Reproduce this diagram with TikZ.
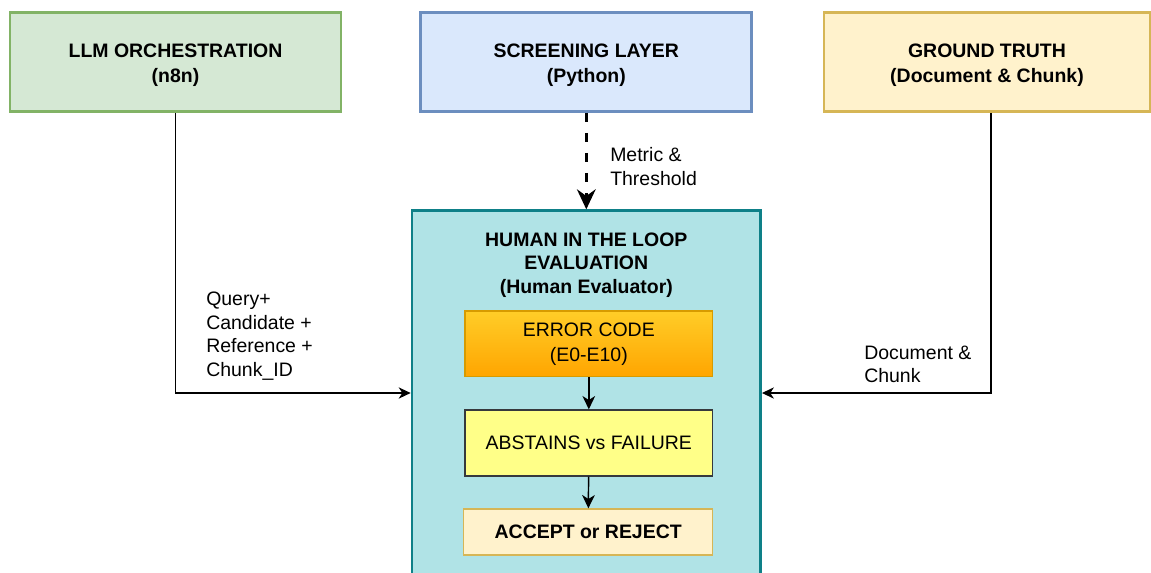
\documentclass[tikz,border=0pt]{standalone}
\usepackage{fontspec}
\setmainfont{Liberation Sans}
\usetikzlibrary{arrows.meta}

\definecolor{llmfill}{HTML}{D5E8D4}
\definecolor{llmdraw}{HTML}{82B366}
\definecolor{scrfill}{HTML}{DAE8FC}
\definecolor{scrdraw}{HTML}{6C8EBF}
\definecolor{gtfill}{HTML}{FFF2CC}
\definecolor{gtdraw}{HTML}{D6B656}
\definecolor{hitlfill}{HTML}{B0E3E6}
\definecolor{hitldraw}{HTML}{0E8088}
\definecolor{errtop}{HTML}{FFCD28}
\definecolor{errbot}{HTML}{FFA500}
\definecolor{errdraw}{HTML}{D79B00}
\definecolor{absfill}{HTML}{FFFF88}
\definecolor{absdraw}{HTML}{36393D}

\begin{document}
\begin{tikzpicture}[x=0.75pt,y=0.75pt,yscale=-1,
  txt/.style={font=\fontsize{14.6pt}{17.6pt}\selectfont, inner sep=0pt, align=left},
  title/.style={font=\bfseries\fontsize{14.6pt}{18.75pt}\selectfont, align=center, inner sep=0pt},
  layer/.style={draw, line width=2.2pt, inner sep=0pt, minimum width=248.25pt, minimum height=74.25pt},
  inbox/.style={draw, line width=1pt, inner sep=0pt, minimum width=185.8pt, minimum height=49.3pt,
    font=\fontsize{14.6pt}{18.75pt}\selectfont, align=center},
  flow/.style={line width=0.8pt, -{Stealth[length=9pt,width=8.5pt,inset=2.8pt]}},
  step flow/.style={line width=1.1pt, -{Stealth[length=10pt,width=9.5pt,inset=3pt]}}
]
\clip (0,0) rectangle (1151,572);

% top row
\node[layer, fill=llmfill, draw=llmdraw] (llm) at (175.5,62) {};
\node[layer, fill=scrfill, draw=scrdraw] (screen) at (586.3,62) {};
\node[layer, fill=gtfill, draw=gtdraw, minimum width=244.5pt] (truth) at (987,62) {};
\node[title, anchor=base] (llmtxt) at (175.5,82) {LLM ORCHESTRATION\\(n8n)};
\node[title, anchor=base] (screentxt) at (586.3,82) {SCREENING LAYER\\(Python)};
\node[title, anchor=base] (truthtxt) at (987,82) {GROUND TRUTH\\(Document \& Chunk)};

% evaluation block
\node[draw=hitldraw, fill=hitlfill, line width=2pt, inner sep=0pt, minimum width=261.5pt, minimum height=273.5pt] (hitl) at (586.3,393) {};
\node[title, font=\bfseries\fontsize{14.6pt}{17.6pt}\selectfont, anchor=base] (hitltxt) at (586.3,293) {HUMAN IN THE LOOP\\EVALUATION\\(Human Evaluator)};

\node[inbox, top color=errtop, bottom color=errbot, draw=errdraw] (err) at (588.8,343.8) {ERROR CODE\\(E0-E10)};
\node[inbox, fill=absfill, draw=absdraw, minimum height=49.5pt] (abst) at (588.8,443) {ABSTAINS vs FAILURE};
\node[inbox, fill=gtfill, draw=gtdraw, minimum width=186.75pt, minimum height=34.5pt, font=\bfseries\fontsize{14.6pt}{18pt}\selectfont] (accept) at (588.2,532) {ACCEPT or REJECT};

\draw[step flow] (err) -- (abst);
\draw[step flow] (abst) -- (accept);

% inputs
\draw[line width=2.2pt, dash pattern=on 6.5pt off 8.5pt, -{Stealth[length=15pt,width=14pt,inset=5pt]}] (screen) -- (hitl);
\draw[flow] (llm.south) |- (hitl.west);
\draw[flow] ([xshift=3pt]truth.south) |- (hitl.east);

% labels
\node[txt, anchor=base west] (lblmetric) at (610,185) {Metric \&\\Threshold};
\node[txt, anchor=base west] (lblquery) at (206,376) {Query+\\Candidate +\\Reference +\\Chunk\_ID};
\node[txt, anchor=base west] (lbldoc) at (864,382.7) {Document \&\\Chunk};

\end{tikzpicture}
\end{document}
